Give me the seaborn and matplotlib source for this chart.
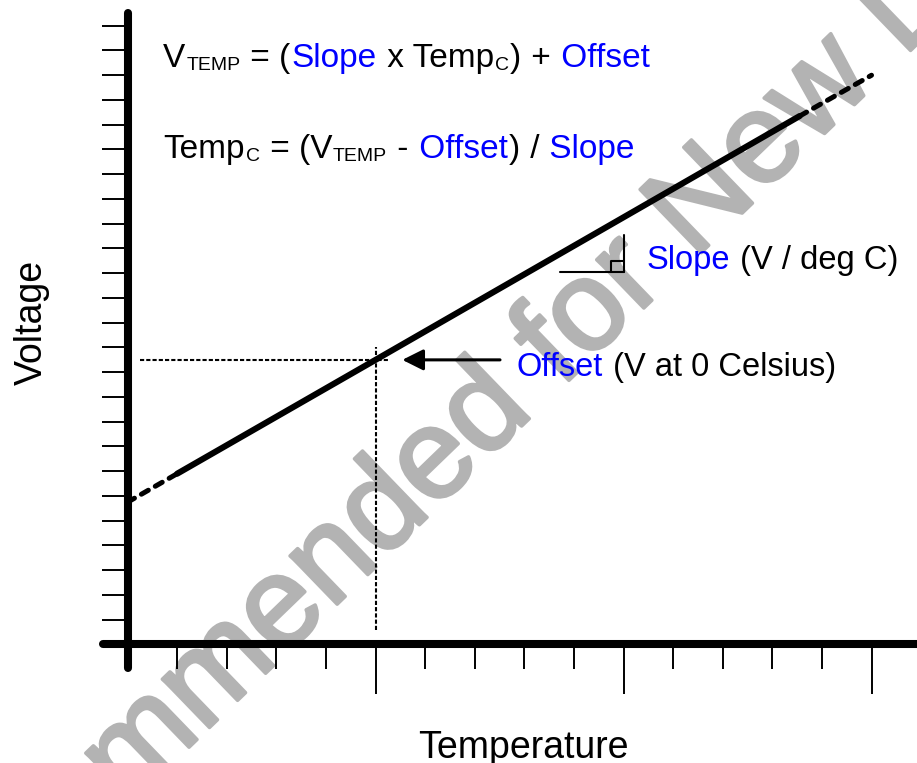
import matplotlib
matplotlib.use("Agg")
import matplotlib.pyplot as plt
import matplotlib.patheffects as pe
from matplotlib.transforms import IdentityTransform
import seaborn as sns

# --- data (temperature units on x, voltage units on y) ---
temp_ticks_major = [5, 10, 15]
temp_ticks_minor = [1, 2, 3, 4, 6, 7, 8, 9, 11, 12, 13, 14]
volt_ticks = list(range(1, 26))

# transfer line, solid part and dashed extensions
line_temp = [1.0, 5.0, 13.55]
line_volt = [6.9, 11.5, 21.35]
low_ext_temp = [0.0, 1.0]
low_ext_volt = [5.75, 6.9]
high_ext_temp = [13.55, 15.0]
high_ext_volt = [21.35, 23.0]

# dotted guides through the offset point
guide_h_temp = [0.25, 5.3]
guide_h_volt = [11.5, 11.5]
guide_v_temp = [5.0, 5.0]
guide_v_volt = [0.6, 12.0]

# small right-angle symbol next to "Slope"
angle_h_temp = [8.72, 10.0]
angle_h_volt = [15.05, 15.05]
angle_v_temp = [10.0, 10.0]
angle_v_volt = [15.05, 16.55]
angle_sq_temp = [9.74, 9.74, 10.0]
angle_sq_volt = [15.05, 15.5, 15.5]

arrow_start = (7.51, 11.5)
arrow_tip = (5.54, 11.5)

BLACK = "black"
BLUE = "#0000ff"

eq1 = [("V", BLACK, False), ("TEMP", BLACK, True), (" = (", BLACK, False),
       ("Slope", BLUE, False), (" x Temp", BLACK, False), ("C", BLACK, True),
       (")", BLACK, False), (" +", BLACK, False), (" Offset", BLUE, False)]
eq2 = [("Temp", BLACK, False), ("C", BLACK, True), (" = (V", BLACK, False),
       ("TEMP", BLACK, True), (" -", BLACK, False), (" Offset", BLUE, False),
       (")", BLACK, False), (" /", BLACK, False), (" Slope", BLUE, False)]
slope_note = [("Slope", BLUE, False), (" (V / deg C)", BLACK, False)]
offset_note = [("Offset", BLUE, False), (" (V at 0 Celsius)", BLACK, False)]

eq1_pos = (0.716, 23.33)
eq2_pos = (0.716, 19.66)
slope_pos = (10.47, 15.17)
offset_pos = (7.85, 10.85)

watermark = "Not Recommended for New Designs"


def rich_text(ax, x, y, pieces, size=24, sub_size=14, sub_drop=3):
    """Draws text pieces one after another on a common baseline."""
    renderer = ax.figure.canvas.get_renderer()
    px, py = ax.transData.transform((x, y))
    for txt, color, sub in pieces:
        t = ax.text(px, py - (sub_drop if sub else 0), txt, color=color,
                    fontsize=sub_size if sub else size,
                    transform=IdentityTransform(), ha="left", va="baseline")
        px = t.get_window_extent(renderer).x1 + 1


sns.set_theme(style="white")
plt.rcParams["font.family"] = ["Liberation Sans", "DejaVu Sans"]

fig = plt.figure(figsize=(9.17, 7.63), dpi=100)
ax = fig.add_axes([0, 0, 1, 1])
ax.set_xlim(-2.571, 15.917)
ax.set_ylim(-4.788, 26.04)
ax.set_facecolor("white")

# watermark behind everything
wm_gray = "#b3b3b3"
ax.text(0.533, 0.400, watermark, transform=ax.transAxes, rotation=44,
        rotation_mode="anchor", ha="center", va="baseline", fontsize=92,
        color=wm_gray, zorder=0,
        path_effects=[pe.withStroke(linewidth=2.5, foreground=wm_gray)])

# axes drawn as spines with ticks
for side in ["top", "right"]:
    ax.spines[side].set_visible(False)
for side in ["left", "bottom"]:
    sp = ax.spines[side]
    sp.set_position(("data", 0))
    sp.set_linewidth(5.8)
    sp.set_color("black")
    sp.set_capstyle("round")
ax.spines["left"].set_bounds(-0.95, 25.5)
ax.spines["bottom"].set_bounds(-0.49, 16.5)

ax.set_xticks(temp_ticks_major)
ax.set_xticks(temp_ticks_minor, minor=True)
ax.set_yticks(volt_ticks)
ax.tick_params(axis="x", which="major", direction="out", length=36, width=1.4,
               color="black", bottom=True, labelbottom=False)
ax.tick_params(axis="x", which="minor", direction="out", length=18, width=1.4,
               color="black", bottom=True)
ax.tick_params(axis="y", which="major", direction="out", length=18.4, width=1.4,
               color="black", labelleft=False, left=True)

# transfer line
sns.lineplot(x=line_temp, y=line_volt, ax=ax, color="black", lw=4.4,
             estimator=None, sort=False, solid_capstyle="round")
for xs, ys in [(low_ext_temp, low_ext_volt), (high_ext_temp, high_ext_volt)]:
    sns.lineplot(x=xs, y=ys, ax=ax, color="black", lw=3.6, estimator=None,
                 sort=False, linestyle=(0, (1.6, 1.6)), dash_capstyle="round")

# dotted guides
for xs, ys in [(guide_h_temp, guide_h_volt), (guide_v_temp, guide_v_volt)]:
    sns.lineplot(x=xs, y=ys, ax=ax, color="black", lw=1.5, estimator=None,
                 sort=False, linestyle=(0, (2, 1)))

# right-angle symbol
for xs, ys in [(angle_h_temp, angle_h_volt), (angle_v_temp, angle_v_volt),
               (angle_sq_temp, angle_sq_volt)]:
    sns.lineplot(x=xs, y=ys, ax=ax, color="black", lw=1.5, estimator=None,
                 sort=False)

ax.annotate("", xy=arrow_tip, xytext=arrow_start,
            arrowprops=dict(arrowstyle="-|>", lw=2.2, color="black",
                            mutation_scale=32, shrinkA=0, shrinkB=0))

rich_text(ax, *eq1_pos, eq1)
rich_text(ax, *eq2_pos, eq2)
rich_text(ax, *slope_pos, slope_note, size=23.5)
rich_text(ax, *offset_pos, offset_note, size=23.5)

ax.text(42 / 917, 1 - 322 / 763, "Voltage", transform=ax.transAxes,
        rotation=90, rotation_mode="anchor", ha="center", va="baseline",
        fontsize=27, color="black")
ax.text(523.5 / 917, 5 / 763, "Temperature", transform=ax.transAxes,
        ha="center", va="baseline", fontsize=27, color="black")

fig.savefig("out.png", dpi=100)
